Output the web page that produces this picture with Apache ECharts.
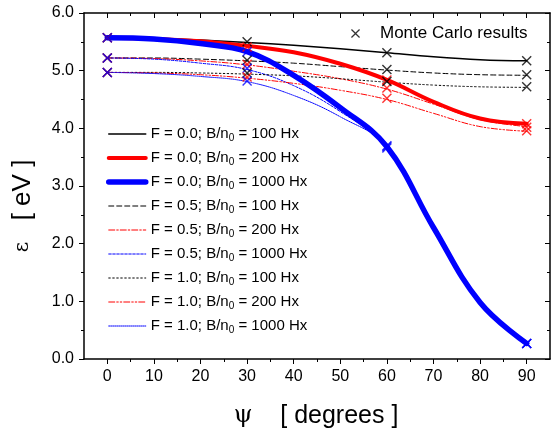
<!DOCTYPE html>
<html>
<head>
<meta charset="utf-8">
<script src="https://cdn.jsdelivr.net/npm/echarts@6/dist/echarts.min.js"></script>
<style>
html,body{margin:0;padding:0;background:#fff;}
#c{width:552px;height:435px;}
</style>
</head>
<body>
<div id="c"></div>
<script>
// ---- data ----
const angles = [0, 10, 20, 30, 40, 50, 60, 70, 80, 90];
const f00_100  = [5.57, 5.56, 5.53, 5.49, 5.44, 5.38, 5.31, 5.24, 5.19, 5.17];
const f00_200  = [5.57, 5.55, 5.51, 5.43, 5.32, 5.12, 4.84, 4.46, 4.17, 4.08];
const f00_1000 = [5.57, 5.55, 5.47, 5.33, 4.92, 4.36, 3.68, 2.28, 0.98, 0.27];
const f05_100  = [5.22, 5.22, 5.20, 5.17, 5.13, 5.07, 5.01, 4.96, 4.93, 4.92];
const f05_200  = [5.22, 5.21, 5.17, 5.10, 4.99, 4.86, 4.68, 4.42, 4.15, 4.03];
const f05_1000 = [5.22, 5.20, 5.13, 5.02, 4.74, 4.29, 3.68, 2.28, 0.98, 0.27];
const f10_100  = [4.97, 4.97, 4.96, 4.94, 4.91, 4.86, 4.80, 4.75, 4.72, 4.71];
const f10_200  = [4.97, 4.96, 4.93, 4.87, 4.78, 4.66, 4.50, 4.26, 4.03, 3.95];
const f10_1000 = [4.97, 4.95, 4.90, 4.81, 4.57, 4.20, 3.68, 2.28, 0.98, 0.27];

const mcAngles = [0, 30, 60, 90];
const mc00_100  = [5.57, 5.50, 5.31, 5.17];
const mc00_200  = [5.57, 5.41, 4.84, 4.08];
const mc00_1000 = [5.57, 5.33, 3.68, 0.27];
const mc05_100  = [5.22, 5.18, 5.02, 4.93];
const mc05_200  = [5.22, 5.11, 4.70, 4.02];
const mc05_1000 = [5.22, 5.04, 3.70, 0.27];
const mc10_100  = [4.97, 4.96, 4.81, 4.72];
const mc10_200  = [4.97, 4.89, 4.52, 3.96];
const mc10_1000 = [4.97, 4.82, 3.66, 0.27];

const xMajorTicks = [0, 10, 20, 30, 40, 50, 60, 70, 80, 90];
const xMinorTicks = [5, 15, 25, 35, 45, 55, 65, 75, 85];

const seriesNames = [
  'F = 0.0; B/n_0 = 100 Hx', 'F = 0.0; B/n_0 = 200 Hx', 'F = 0.0; B/n_0 = 1000 Hx',
  'F = 0.5; B/n_0 = 100 Hx', 'F = 0.5; B/n_0 = 200 Hx', 'F = 0.5; B/n_0 = 1000 Hx',
  'F = 1.0; B/n_0 = 100 Hx', 'F = 1.0; B/n_0 = 200 Hx', 'F = 1.0; B/n_0 = 1000 Hx'
];
const mcName = 'Monte Carlo results';

// ---- build ----
const FONT = 'Liberation Sans, Arial, sans-serif';
const BLACK = '#000000', RED = '#ff0000', BLUE = '#0000ff';
const curves = [f00_100, f00_200, f00_1000, f05_100, f05_200, f05_1000, f10_100, f10_200, f10_1000];
const mcs = [mc00_100, mc00_200, mc00_1000, mc05_100, mc05_200, mc05_1000, mc10_100, mc10_200, mc10_1000];
const styles = [
  {color: BLACK, width: 1.5, type: 'solid', z: 5},
  {color: RED, width: 4, type: 'solid', z: 6},
  {color: BLUE, width: 5.5, type: 'solid', z: 7},
  {color: BLACK, width: 1, type: [5, 3], z: 3},
  {color: RED, width: 1, type: [6, 2, 1.5, 2], z: 3},
  {color: BLUE, width: 1, type: [2.5, 1.5], z: 3},
  {color: BLACK, width: 1, type: [1.5, 2.5], z: 3},
  {color: RED, width: 1, type: [6, 2, 1.5, 2, 1.5, 2], z: 3},
  {color: BLUE, width: 1, type: [1, 1], z: 3}
];
const crossPath = 'path://M0,1 L1,0 L5,4 L9,0 L10,1 L6,5 L10,9 L9,10 L5,6 L1,10 L0,9 L4,5 Z';

const series = curves.map((vals, i) => ({
  name: seriesNames[i],
  type: 'line',
  smooth: 0.4,
  showSymbol: false,
  symbol: 'none',
  z: styles[i].z,
  color: styles[i].color,
  lineStyle: {color: styles[i].color, width: styles[i].width, type: styles[i].type, cap: 'round'},
  data: vals.map((v, k) => [angles[k], v])
}));

const mcColors = [BLACK, RED, BLUE, BLACK, RED, BLUE, BLACK, RED, BLUE];
const mcData = [];
mcs.forEach((arr, i) => {
  arr.forEach((v, k) => mcData.push({value: [mcAngles[k], v], itemStyle: {color: mcColors[i]}}));
});
series.push({
  name: mcName,
  type: 'scatter',
  symbol: crossPath,
  symbolSize: 10,
  z: 10,
  itemStyle: {color: BLACK},
  data: mcData
});

const xBase = {type: 'value', min: -5, max: 95, gridIndex: 0, splitLine: {show: false}};
const option = {
  animation: false,
  backgroundColor: '#ffffff',
  grid: {left: 84, top: 13, width: 466, height: 346, containLabel: false},
  xAxis: [
    Object.assign({}, xBase, {
      position: 'bottom',
      axisLine: {show: true, onZero: false, lineStyle: {color: BLACK, width: 1.5}},
      axisTick: {show: true, length: 5, customValues: xMajorTicks, lineStyle: {color: BLACK}},
      axisLabel: {show: true, customValues: xMajorTicks, margin: 10, color: BLACK, fontSize: 16, fontFamily: FONT}
    }),
    Object.assign({}, xBase, {
      position: 'bottom',
      axisLine: {show: false, onZero: false},
      axisTick: {show: true, length: 3, customValues: xMinorTicks, lineStyle: {color: BLACK}},
      axisLabel: {show: false}
    }),
    Object.assign({}, xBase, {
      position: 'top',
      axisLine: {show: true, onZero: false, lineStyle: {color: BLACK, width: 1.5}},
      axisTick: {show: true, inside: true, length: 5, customValues: xMajorTicks, lineStyle: {color: BLACK}},
      axisLabel: {show: false}
    }),
    Object.assign({}, xBase, {
      position: 'top',
      axisLine: {show: false, onZero: false},
      axisTick: {show: true, inside: true, length: 3, customValues: xMinorTicks, lineStyle: {color: BLACK}},
      axisLabel: {show: false}
    })
  ],
  yAxis: [
    {
      type: 'value', min: 0, max: 6, interval: 1, position: 'left',
      splitLine: {show: false},
      axisLine: {show: true, onZero: false, lineStyle: {color: BLACK, width: 1.5}},
      axisTick: {show: true, length: 5, lineStyle: {color: BLACK}},
      minorTick: {show: true, splitNumber: 2, length: 3, lineStyle: {color: BLACK}},
      axisLabel: {margin: 10, color: BLACK, fontSize: 16, fontFamily: FONT, formatter: v => v.toFixed(1)}
    },
    {
      type: 'value', min: 0, max: 6, interval: 1, position: 'right',
      splitLine: {show: false},
      axisLine: {show: true, onZero: false, lineStyle: {color: BLACK, width: 1.5}},
      axisTick: {show: true, inside: true, length: 5, lineStyle: {color: BLACK}},
      minorTick: {show: true, splitNumber: 2, length: 3, lineStyle: {color: BLACK}},
      axisLabel: {show: false}
    }
  ],
  legend: [
    {
      data: seriesNames.map((n, i) => ({
        name: n,
        lineStyle: {color: styles[i].color, width: styles[i].width, type: styles[i].type, cap: 'round'}
      })),
      orient: 'vertical',
      left: 101, top: 120,
      itemWidth: 37, itemHeight: 16, itemGap: 6,
      selectedMode: false,
      itemStyle: {opacity: 0, borderWidth: 0},
      formatter: n => n.replace('_0', '{sub|0}'),
      textStyle: {
        color: BLACK, fontSize: 15, fontFamily: FONT, lineHeight: 16,
        rich: {sub: {fontSize: 10, fontFamily: FONT, color: BLACK, lineHeight: 8, padding: [8, 0, 0, 0]}}
      }
    },
    {
      data: [{name: mcName, icon: crossPath}],
      left: 346, top: 20,
      itemWidth: 9, itemHeight: 9,
      selectedMode: false,
      textStyle: {color: BLACK, fontSize: 17, fontFamily: FONT, padding: [0, 0, 0, 15]}
    }
  ],
  graphic: [
    {
      type: 'text', x: 316, y: 416,
      style: {
        text: '{g|ψ}    [ degrees ]', fill: BLACK, fontSize: 25, fontFamily: FONT,
        align: 'center', verticalAlign: 'middle',
        rich: {g: {fontSize: 24, fontFamily: 'DejaVu Serif'}}
      }
    },
    {
      type: 'text', x: 23, y: 206, rotation: Math.PI / 2,
      style: {
        text: '{g|ε}   [ eV ]', fill: BLACK, fontSize: 26, fontFamily: FONT,
        align: 'center', verticalAlign: 'middle',
        rich: {g: {fontSize: 20, fontFamily: 'DejaVu Serif'}}
      }
    }
  ],
  series: series
};
const chart = echarts.init(document.getElementById('c'), null, {renderer: 'canvas'});
chart.setOption(option);
</script>
</body>
</html>
